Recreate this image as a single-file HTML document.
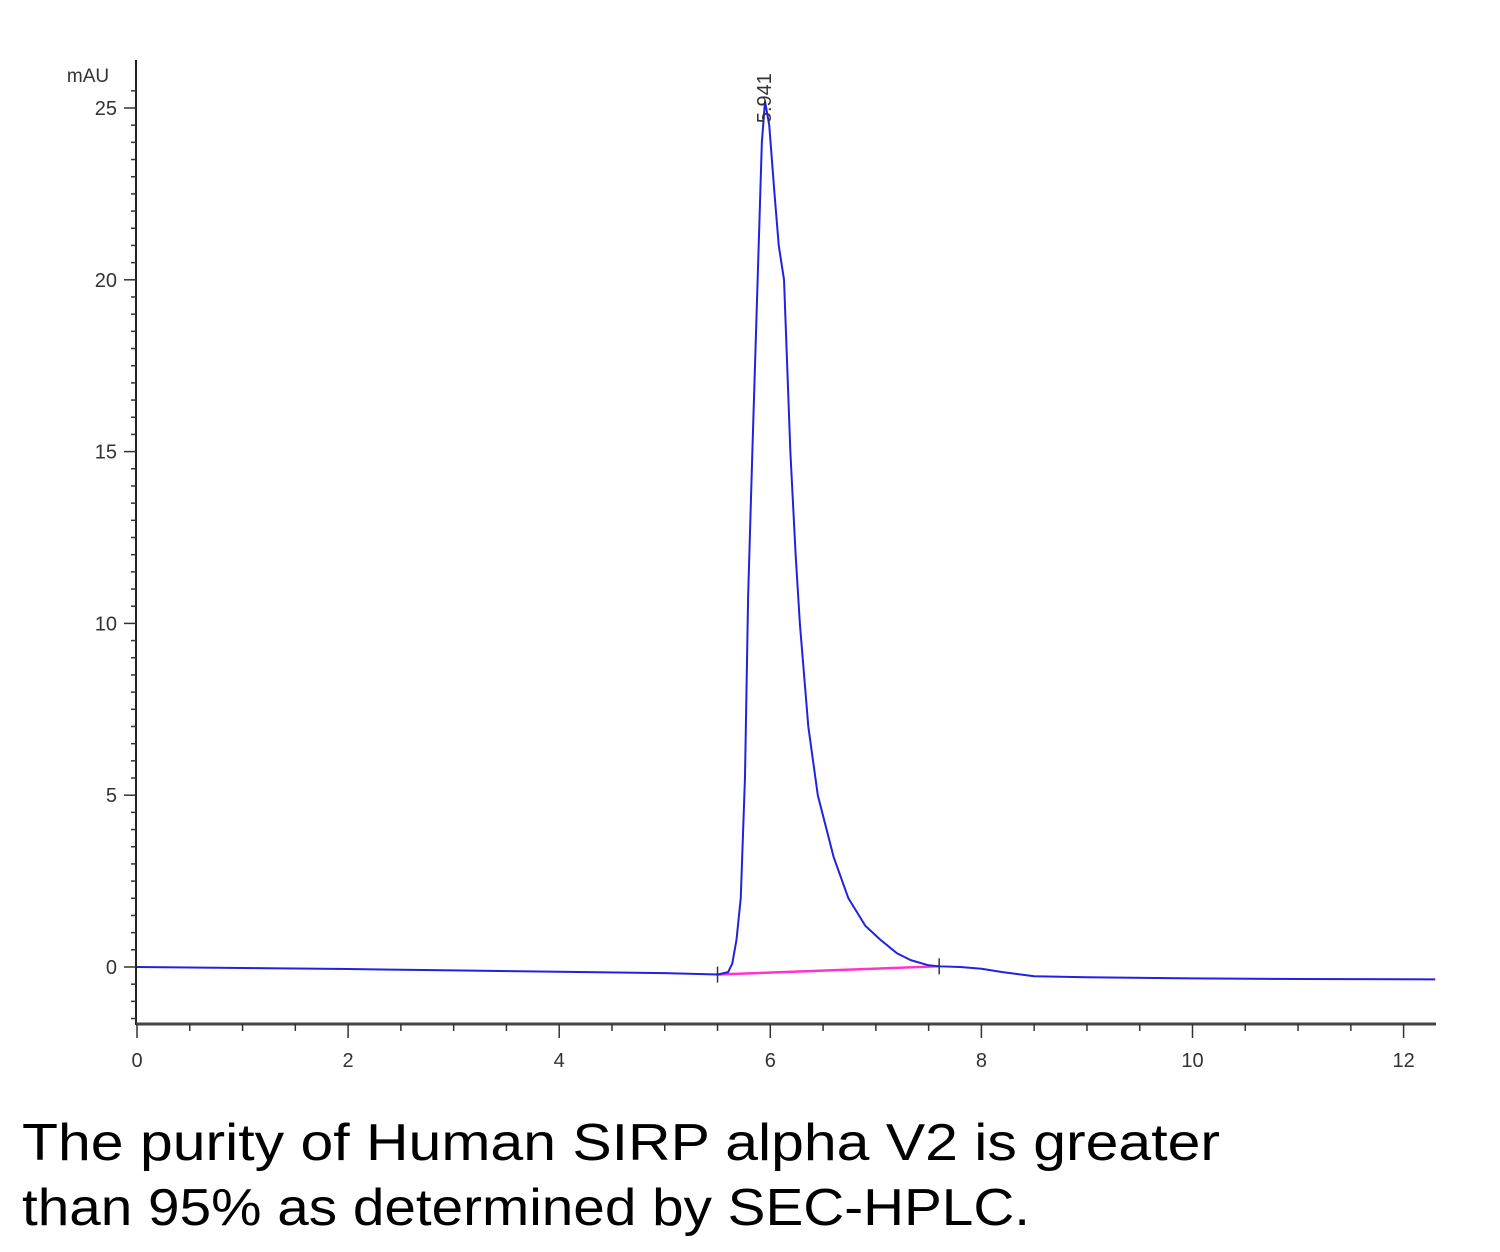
<!DOCTYPE html>
<html><head><meta charset="utf-8"><style>
html,body{margin:0;padding:0;background:#fff;}
svg{display:block;}
</style></head><body>
<svg id="chart" width="1500" height="1252" viewBox="0 0 1500 1252" xmlns="http://www.w3.org/2000/svg" font-family="Liberation Sans, sans-serif">
<g id="axes"></g>
<g id="series"></g>
<text x="88" y="82" font-size="19" text-anchor="middle" fill="#333">mAU</text>
<text x="22" y="1160" font-size="52" textLength="1198" lengthAdjust="spacingAndGlyphs" fill="#000">The purity of Human SIRP alpha V2 is greater</text>
<text x="22" y="1225" font-size="52" textLength="1008" lengthAdjust="spacingAndGlyphs" fill="#000">than 95% as determined by SEC-HPLC.</text>
</svg>
<script>
const xTicks=[0,2,4,6,8,10,12];
const yTicks=[0,5,10,15,20,25];
const traceX=[0,1,2,3,4,5,5.5,5.6,5.64,5.68,5.72,5.76,5.79,5.83,5.88,5.92,5.95,5.99,6.04,6.08,6.13,6.19,6.24,6.28,6.36,6.45,6.6,6.74,6.9,7.04,7.2,7.33,7.5,7.6,7.8,8.0,8.2,8.5,9,10,11,12.3];
const traceY=[0,-0.03,-0.06,-0.1,-0.14,-0.18,-0.22,-0.15,0.1,0.8,2.0,5.5,10.8,15,20,24,25.2,24.5,22.5,21,20,15,12,10,7,5,3.2,2,1.2,0.8,0.4,0.2,0.05,0.02,0.0,-0.05,-0.15,-0.27,-0.3,-0.33,-0.35,-0.36];
const baseX=[5.5,7.6];
const baseY=[-0.22,0.02];
const peakLabel=["5.941"];
const peakX=[5.941];
const peakY=[25.2];

const X0=137, XS=105.55, Y0=967, YS=34.36;
const sx=v=>X0+v*XS, sy=v=>Y0-v*YS;
const NS="http://www.w3.org/2000/svg";
const axes=document.getElementById('axes'), series=document.getElementById('series');
function mk(tag,attrs,parent){const e=document.createElementNS(NS,tag);for(const k in attrs)e.setAttribute(k,attrs[k]);parent.appendChild(e);return e;}

let l=mk('line',{x1:136,y1:60,x2:136,y2:1025,stroke:'#222','stroke-width':2},axes);


l=mk('line',{x1:136,y1:1024,x2:1436,y2:1024,stroke:'#444','stroke-width':3},axes);



for(let v=-1.5;v<=25.6;v+=0.5){
  const major=Math.abs(v%5)<1e-6;
  const t=mk('line',{x1:major?124:131,y1:sy(v),x2:136,y2:sy(v),stroke:'#333','stroke-width':1.5},axes);
  
  
}
yTicks.forEach(v=>{
  const t=mk('text',{x:117,y:sy(v)+7,'font-size':20,'text-anchor':'end',fill:'#333'},axes);
  t.textContent=v;
  
  
});
for(let v=0;v<=12.31;v+=0.5){
  const major=Math.abs(v%2)<1e-6;
  const t=mk('line',{x1:sx(v),y1:1024,x2:sx(v),y2:major?1038:1031,stroke:'#333','stroke-width':1.5},axes);
  
  
}
xTicks.forEach(v=>{
  const t=mk('text',{x:sx(v),y:1067,'font-size':20,'text-anchor':'middle',fill:'#333'},axes);
  t.textContent=v;
  
  
});

let p=mk('polyline',{points:baseX.map((x,i)=>sx(x)+','+sy(baseY[i])).join(' '),fill:'none',stroke:'#ff33cc','stroke-width':2.5},series);


baseX.forEach((x,i)=>{
  const m=mk('line',{x1:sx(x),y1:sy(baseY[i])-8,x2:sx(x),y2:sy(baseY[i])+8,stroke:'#333','stroke-width':1.5},series);
  
  
});
p=mk('polyline',{points:traceX.map((x,i)=>sx(x)+','+sy(traceY[i])).join(' '),fill:'none',stroke:'#2222dd','stroke-width':2,'stroke-linejoin':'round'},series);


peakX.forEach((x,i)=>{
  const t=mk('text',{x:0,y:0,'font-size':20,fill:'#333',transform:`translate(${sx(x)+7},${sy(peakY[i])+22}) rotate(-90)`},series);
  t.textContent=peakLabel[i];
  
  
});
</script>
</body></html>
